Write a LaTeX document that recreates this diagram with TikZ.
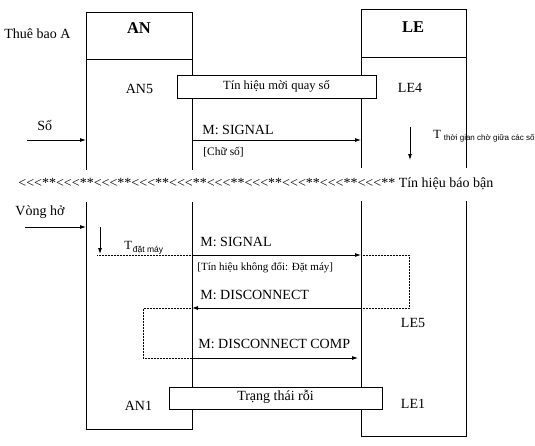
\documentclass[tikz,border=0pt]{standalone}
\usepackage{fontspec}
\setmainfont{Liberation Serif}
\newfontfamily\subfont{Liberation Sans}
\usetikzlibrary{arrows.meta}
\newcommand\ltc{\mbox{<}}
\newcommand\grp{\ltc\ltc\ltc**}
\begin{document}
\begin{tikzpicture}[x=1pt,y=-1pt,
  line width=0.8pt,
  txt/.style={anchor=base west, inner sep=0pt, font=\fontsize{14}{16}\selectfont},
  ctr/.style={anchor=base, inner sep=0pt, font=\fontsize{14}{16}\selectfont},
  hdr/.style={anchor=base, inner sep=0pt, font=\fontsize{16.5}{18}\selectfont\bfseries},
  small/.style={anchor=base west, inner sep=0pt, font=\fontsize{11}{13}\selectfont},
  tletter/.style={anchor=base west, inner sep=0pt, font=\fontsize{12.5}{14}\selectfont},
  tsub/.style={anchor=base west, inner sep=0pt, font=\subfont\fontsize{8}{9}\selectfont},
  msg/.style={-{Latex[length=6pt,width=4pt]}},
  dotl/.style={densely dotted, line width=0.5pt},
  bar/.style={draw, fill=white, inner sep=0pt, line width=0.8pt, font=\fontsize{14}{16}\selectfont},
]
\useasboundingbox (0,0) rectangle (535,445);
% ---- AN lifeline box
\coordinate (anTL) at (86,12);  \coordinate (anTR) at (192,12);
\coordinate (anHL) at (86,59);  \coordinate (anHR) at (192,59);
\coordinate (anG1L) at (86,170); \coordinate (anG1R) at (192,170);
\coordinate (anG2L) at (86,202); \coordinate (anG2R) at (192,202);
\coordinate (anBL) at (86,429); \coordinate (anBR) at (192,429);
\draw (anG1L) -- (anTL) -- (anTR) -- (anG1R);
\draw (anHL) -- (anHR);
\draw (anG2L) -- (anBL) -- (anBR) -- (anG2R);
% ---- LE lifeline box
\coordinate (leTL) at (361,9);  \coordinate (leTR) at (466,9);
\coordinate (leHL) at (361,57); \coordinate (leHR) at (466,57);
\coordinate (leG1L) at (361,168); \coordinate (leG1R) at (466,168);
\coordinate (leG2L) at (361,201); \coordinate (leG2R) at (466,201);
\coordinate (leBL) at (361,436); \coordinate (leBR) at (466,436);
\draw (leG1L) -- (leTL) -- (leTR) -- (leG1R);
\draw (leHL) -- (leHR);
\draw (leG2L) -- (leBL) -- (leBR) -- (leG2R);
% ---- headers and states
\node[txt] (thuebao) at (4,38) {Thuê bao A};
\node[hdr] (anhdr) at (139,33) {AN};
\node[hdr] (lehdr) at (413,32) {LE};
\node[ctr] (an5) at (139.5,93) {AN5};
\node[ctr] (le4) at (410,92) {LE4};
\node[ctr] (le5) at (413,327) {LE5};
\node[ctr] (an1) at (138.5,410) {AN1};
\node[ctr] (le1) at (413,408) {LE1};
% ---- bars
\node[bar, minimum width=199pt, minimum height=23pt, text height=9pt, text depth=3pt,
      font=\fontsize{12.5}{14}\selectfont] (moi) at (276.5,86.5) {Tín hiệu mời quay số};
\node[bar, minimum width=213pt, minimum height=22pt, text height=9pt, text depth=5pt] (roi) at (275.5,398) {Trạng thái rỗi};
% ---- digit phase
\coordinate (soS) at (27,140); \coordinate (soE) at (86,140);
\draw[msg] (soS) -- (soE);
\node[txt] (so) at (37,130) {Số};
\coordinate (s1a) at (192,140); \coordinate (s1b) at (361,140);
\draw[msg] (s1a) -- (s1b);
\node[txt] (sig1) at (202,134) {M: SIGNAL};
\node[small, font=\fontsize{11.5}{13}\selectfont] (chuso) at (203,155) {[Chữ số]};
\coordinate (d1a) at (410,127); \coordinate (d1b) at (410,160);
\draw[msg] (d1a) -- (d1b);
\node[tletter] (tcho) at (433,138) {T};
\node[tsub] (tchosub) at (443.5,140) {thời gian chờ giữa các số};
% ---- busy tone line
\node[txt] (busy) at (18,187) {\grp\grp\grp\grp\grp\grp\grp\grp\grp\grp{} Tín hiệu báo bận};
% ---- hang-up phase
\coordinate (vhS) at (25,227); \coordinate (vhE) at (86,227);
\draw[msg] (vhS) -- (vhE);
\node[txt] (vongho) at (15,215) {Vòng hở};
\coordinate (d2a) at (100,227); \coordinate (d2b) at (100,254);
\draw[msg] (d2a) -- (d2b);
\node[tletter] (tdat) at (124,249) {T};
\node[tsub, font=\subfont\fontsize{8.5}{9}\selectfont] (tdatsub) at (132.5,252) {đặt máy};
\coordinate (dt0) at (97,255); \coordinate (s2a) at (192,255); \coordinate (s2b) at (361,255);
\draw[dotl] (dt0) -- (s2a);
\draw[msg] (s2a) -- (s2b);
\node[txt] (sig2) at (200,246) {M: SIGNAL};
\node[small] (khongdoi) at (197,270) {[Tín hiệu không đổi: Đặt máy]};
\coordinate (rA) at (409,255); \coordinate (rB) at (409,308);
\coordinate (dcA) at (361,308); \coordinate (dcB) at (192,308);
\draw[dotl] (s2b) -- (rA) -- (rB) -- (dcA);
\draw[msg] (dcA) -- (dcB);
\node[txt] (disc) at (200,299) {M: DISCONNECT};
\coordinate (lA) at (143,308); \coordinate (lB) at (143,358);
\coordinate (cpA) at (192,358); \coordinate (cpB) at (358,358);
\draw[dotl] (dcB) -- (lA) -- (lB) -- (cpA);
\draw[msg] (cpA) -- (cpB);
\node[txt] (comp) at (198,348) {M: DISCONNECT COMP};
\end{tikzpicture}
\end{document}
